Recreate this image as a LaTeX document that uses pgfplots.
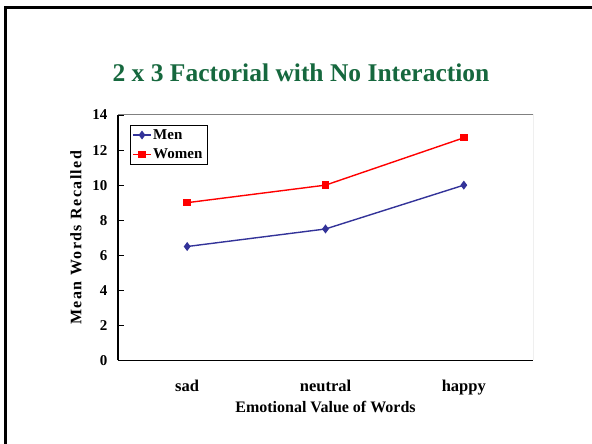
\documentclass[border=0pt]{standalone}
\usepackage{pgfplots}
\pgfplotsset{compat=1.18}
\usepackage{fontspec}
\setmainfont{Liberation Serif}
\definecolor{titlegreen}{RGB}{22,104,62}
\definecolor{menblue}{RGB}{51,51,153}
\definecolor{womenred}{RGB}{255,0,0}
\begin{document}
\begin{tikzpicture}[x=1pt,y=1pt]
\useasboundingbox (0,0) rectangle (592,444);
\begin{scope}
\clip (0,0) rectangle (592,444);
\draw[line width=2.5pt] (5.5,-20) -- (5.5,436.5) -- (620,436.5);
\end{scope}
\node[anchor=base, text=titlegreen, font=\bfseries\fontsize{25.5}{30}\selectfont] at (301,362) {2 x 3 Factorial with No Interaction};
\begin{axis}[
  at={(118pt,83.5pt)}, anchor=south west,
  scale only axis, width=415pt, height=245.5pt,
  xmin=-0.5, xmax=2.5, ymin=0, ymax=14,
  ytick={0,2,...,14},
  xtick={0,1,2}, xticklabels={sad,neutral,happy},
  axis x line*=bottom, axis y line*=left,
  axis line style={black, line width=1.3pt, -},
  tick align=inside,
  major tick length=6pt,
  x tick style={draw=none},
  y tick style={black, line width=0.8pt},
  /pgf/number format/assume math mode=true,
  yticklabel style={font=\bfseries\fontsize{15}{17}\selectfont, xshift=-7pt},
  xticklabel style={font=\bfseries\fontsize{16.5}{19}\selectfont, anchor=base, yshift=-31pt},
  xlabel={Emotional Value of Words},
  ylabel={\addfontfeature{LetterSpace=9}Mean Words Recalled},
  label style={font=\bfseries\fontsize{16}{19}\selectfont},
  xlabel style={at={(axis description cs:0.5,0)}, anchor=base, yshift=-52pt},
  ylabel style={yshift=4pt},
  legend style={at={(0.029,0.961)}, anchor=north west, draw=black, line width=0.6pt,
    font=\bfseries\fontsize{15}{17}\selectfont, inner sep=2.5pt, row sep=4pt,
    legend cell align=left},
  legend image post style={line width=1.3pt},
]
\addplot[menblue, line width=1.4pt, mark=diamond*, mark size=3.4pt, mark options={solid, fill=menblue}]
  coordinates {(0,6.5) (1,7.5) (2,10)};
\addlegendentry{Men}
\addplot[womenred, line width=1.4pt, mark=square*, mark size=3pt, mark options={solid, fill=womenred}]
  coordinates {(0,9) (1,10) (2,12.7)};
\addlegendentry{Women}
\draw[gray, line width=1pt] (rel axis cs:0,1) -- (rel axis cs:1,1) -- (rel axis cs:1,0);
\end{axis}
\end{tikzpicture}
\end{document}
